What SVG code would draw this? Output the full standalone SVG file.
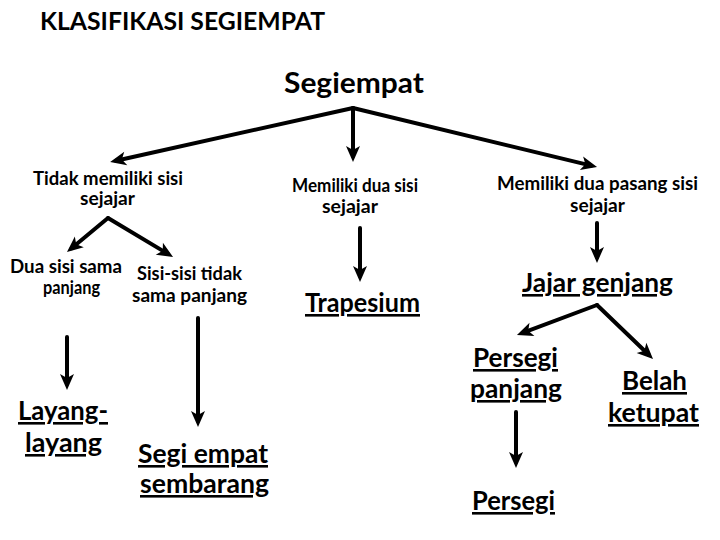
<svg xmlns="http://www.w3.org/2000/svg" width="720" height="540" viewBox="0 0 720 540">
<style>
text{font-family:Lato,"Open Sans","Liberation Sans",sans-serif;font-weight:bold;fill:#000;}
.title{font-size:24px;}
.root{font-size:28px;}
.s{font-size:18px;}
.b{font-size:26px;text-decoration:underline;}
.c line{stroke:#000;stroke-width:4;stroke-linecap:round;marker-end:url(#ah);}
</style>
<defs>
<marker id="ah" markerUnits="userSpaceOnUse" markerWidth="30" markerHeight="30" refX="0" refY="0" orient="auto" overflow="visible">
<path d="M6,0 L-10,-7 L-6,0 L-10,7 Z" fill="#000"/>
</marker>
</defs>
<rect width="720" height="540" fill="#fff"/>
<g id="title"><text class="title" x="40" y="30" textLength="285" lengthAdjust="spacingAndGlyphs">KLASIFIKASI SEGIEMPAT</text></g>
<g id="segiempat"><text class="root" x="284" y="93" textLength="140" lengthAdjust="spacingAndGlyphs">Segiempat</text></g>
<g id="tidak-sejajar">
<text class="s" x="33" y="185" textLength="150" lengthAdjust="spacingAndGlyphs">Tidak memiliki sisi</text>
<text class="s" x="80" y="205" textLength="55" lengthAdjust="spacingAndGlyphs">sejajar</text>
</g>
<g id="dua-sisi-sejajar">
<text class="s" x="292" y="192" textLength="126" lengthAdjust="spacingAndGlyphs">Memiliki dua sisi</text>
<text class="s" x="322" y="213" textLength="56" lengthAdjust="spacingAndGlyphs">sejajar</text>
</g>
<g id="dua-pasang-sejajar">
<text class="s" x="497" y="190" textLength="201" lengthAdjust="spacingAndGlyphs">Memiliki dua pasang sisi</text>
<text class="s" x="570" y="212" textLength="55" lengthAdjust="spacingAndGlyphs">sejajar</text>
</g>
<g id="dua-sisi-sama">
<text class="s" x="10" y="273" textLength="112" lengthAdjust="spacingAndGlyphs">Dua sisi sama</text>
<text class="s" x="43" y="294" textLength="57" lengthAdjust="spacingAndGlyphs">panjang</text>
</g>
<g id="tidak-sama">
<text class="s" x="137" y="280" textLength="105" lengthAdjust="spacingAndGlyphs">Sisi-sisi tidak</text>
<text class="s" x="132" y="302" textLength="115" lengthAdjust="spacingAndGlyphs">sama panjang</text>
</g>
<g id="trapesium"><text class="b" x="305" y="312" textLength="115" lengthAdjust="spacingAndGlyphs">Trapesium</text></g>
<g id="jajar-genjang"><text class="b" x="522" y="292" textLength="151" lengthAdjust="spacingAndGlyphs">Jajar genjang</text></g>
<g id="persegi-panjang">
<text class="b" x="473" y="367" textLength="85" lengthAdjust="spacingAndGlyphs">Persegi</text>
<text class="b" x="470" y="398" textLength="92" lengthAdjust="spacingAndGlyphs">panjang</text>
</g>
<g id="belah-ketupat">
<text class="b" x="622" y="390" textLength="65" lengthAdjust="spacingAndGlyphs">Belah</text>
<text class="b" x="608" y="422" textLength="91" lengthAdjust="spacingAndGlyphs">ketupat</text>
</g>
<g id="persegi"><text class="b" x="472" y="510" textLength="83" lengthAdjust="spacingAndGlyphs">Persegi</text></g>
<g id="layang-layang">
<text class="b" x="18" y="420" textLength="90" lengthAdjust="spacingAndGlyphs">Layang-</text>
<text class="b" x="25" y="452" textLength="77" lengthAdjust="spacingAndGlyphs">layang</text>
</g>
<g id="segi-empat-sembarang">
<text class="b" x="138" y="463" textLength="130" lengthAdjust="spacingAndGlyphs">Segi empat</text>
<text class="b" x="140" y="493" textLength="129" lengthAdjust="spacingAndGlyphs">sembarang</text>
</g>
<g id="connectors" class="c">
<line x1="353" y1="108" x2="116" y2="160.7"/>
<line x1="353" y1="108" x2="353" y2="156"/>
<line x1="353" y1="108" x2="591.2" y2="165.6"/>
<line x1="108" y1="218" x2="71.6" y2="248.2"/>
<line x1="108" y1="218" x2="167.9" y2="253.9"/>
<line x1="360" y1="228" x2="360" y2="276"/>
<line x1="597" y1="223" x2="597" y2="257"/>
<line x1="597" y1="305" x2="522.6" y2="332.9"/>
<line x1="597" y1="305" x2="648.7" y2="354.8"/>
<line x1="516" y1="412" x2="516" y2="462"/>
<line x1="67" y1="337" x2="67" y2="384"/>
<line x1="198" y1="318" x2="198" y2="421"/>
</g>
</svg>
